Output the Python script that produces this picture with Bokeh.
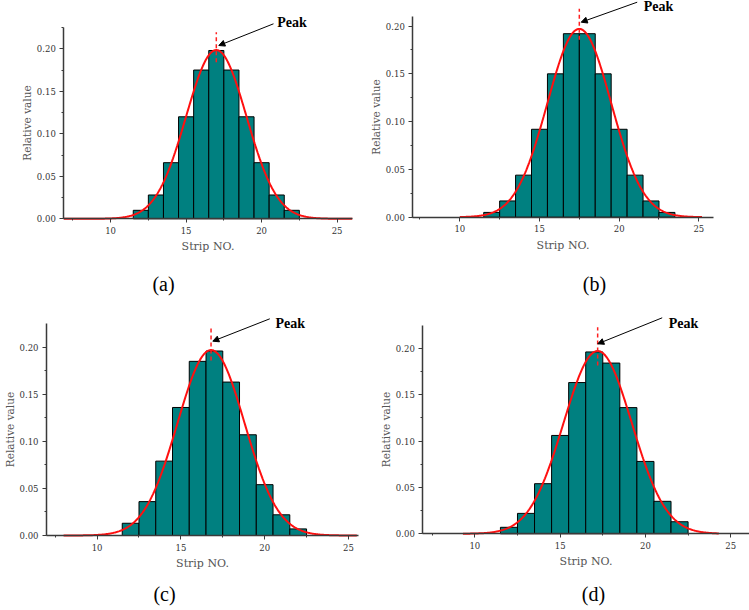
import numpy as np
from bokeh.plotting import figure
from bokeh.layouts import column, row
from bokeh.models import (Arrow, NormalHead, Label, Range1d,
                          SingleIntervalTicker, NumeralTickFormatter)
from bokeh.embed import file_html
from bokeh.resources import INLINE

# ---- relative value per strip, four measurements ----
strips_a = [12, 13, 14, 15, 16, 17, 18, 19, 20, 21, 22]
values_a = [0.010, 0.028, 0.066, 0.120, 0.175, 0.198, 0.175, 0.120, 0.066, 0.028, 0.010]

strips_b = [12, 13, 14, 15, 16, 17, 18, 19, 20, 21, 22, 23]
values_b = [0.005, 0.017, 0.044, 0.092, 0.150, 0.192, 0.192, 0.150, 0.092, 0.044, 0.017, 0.005]

strips_c = [12, 13, 14, 15, 16, 17, 18, 19, 20, 21, 22]
values_c = [0.013, 0.036, 0.079, 0.136, 0.185, 0.196, 0.163, 0.107, 0.054, 0.022, 0.007]

strips_d = [12, 13, 14, 15, 16, 17, 18, 19, 20, 21, 22]
values_d = [0.007, 0.022, 0.054, 0.106, 0.163, 0.196, 0.184, 0.136, 0.078, 0.035, 0.013]

# ---- normal-curve fit of each histogram: centre (peak strip), height, width ----
fit_a = dict(center=17.0, height=0.1985, sigma=2.0, start=6.9, end=26.0)
fit_b = dict(center=17.5, height=0.197, sigma=2.0, start=10.0, end=25.2)
fit_c = dict(center=16.8, height=0.197, sigma=2.0, start=8.0, end=25.5)
fit_d = dict(center=17.2, height=0.197, sigma=2.0, start=9.3, end=24.3)

# axis extents of the panels (x: strip number, y: relative value)
x_extents = [(6.9, 26.0), (7.05, 25.94), (6.98, 25.6), (6.95, 26.1)]
y_extents = [(0, 0.2254), (0, 0.210), (0, 0.2249), (0, 0.2245)]

panel_tags = ["(a)", "(b)", "(c)", "(d)"]

# ---- per-panel geometry in canvas pixels (origin top-left of each panel) ----
# box = axes rectangle (left, right, top, bottom); annotations are pixel anchors
layouts = [
    dict(w=370, h=300, box=(63.3, 351.7, 26.7, 218.3),
         dash=(31.7, 61.7), arrow=(273, 23.3, 218.3, 45), peak=(276.7, 22), tag=(163, 283)),
    dict(w=379, h=300, box=(42.3, 343.3, 16, 216.7),
         dash=(8.3, 39.3), arrow=(266.7, 1.7, 210.7, 21.7), peak=(273.3, 6), tag=(224, 283)),
    dict(w=370, h=310, box=(46, 358, 23.3, 235),
         dash=(26, 60), arrow=(269.3, 18.3, 212.3, 40.7), peak=(275, 23), tag=(164, 293)),
    dict(w=379, h=310, box=(52.3, 379, 25, 233.3),
         dash=(26.7, 65), arrow=(291.7, 17.3, 227.3, 43.3), peak=(298.3, 23), tag=(223, 293)),
]

AXIS_COLOR = "#3a3a3a"


def make_panel(strips, values, fit, xe, ye, lay, tag):
    w, h = lay["w"], lay["h"]
    left, right, top, bottom = lay["box"]
    x0, x1 = xe
    y0, y1 = ye
    sx = (x1 - x0) / (right - left)
    sy = (y1 - y0) / (bottom - top)

    def dx(px):
        return x0 + (px - left) * sx

    def dy(py):
        return y0 + (bottom - py) * sy

    # the frame fills the whole panel; axes sit at fixed data positions
    p = figure(width=w, height=h,
               x_range=Range1d(dx(0), dx(w)), y_range=Range1d(dy(h), dy(0)),
               output_backend="svg", toolbar_location=None, tools="", min_border=0)
    p.xgrid.visible = False
    p.ygrid.visible = False
    p.outline_line_color = None
    p.background_fill_color = "white"
    p.border_fill_color = "white"

    # histogram bars
    p.vbar(x=strips, top=values, width=1.0, bottom=0,
           fill_color="#008080", line_color="black", line_width=1)

    # fitted normal curve
    xs = np.linspace(fit["start"], fit["end"], 400)
    ys = fit["height"] * np.exp(-0.5 * ((xs - fit["center"]) / fit["sigma"]) ** 2)
    p.line(xs, ys, line_color="#ff1010", line_width=2)

    # axes
    p.xaxis.ticker = SingleIntervalTicker(interval=5, num_minor_ticks=2)
    p.yaxis.ticker = SingleIntervalTicker(interval=0.05, num_minor_ticks=2)
    p.yaxis.formatter = NumeralTickFormatter(format="0.00")
    p.xaxis.axis_label = "Strip NO."
    p.yaxis.axis_label = "Relative value"
    p.xaxis.fixed_location = y0
    p.xaxis.bounds = (x0, x1)
    p.yaxis.fixed_location = x0
    p.yaxis.bounds = (y0, y1)
    for ax in (p.xaxis[0], p.yaxis[0]):
        ax.axis_line_color = AXIS_COLOR
        ax.axis_line_width = 1.5
        ax.major_tick_in = 0
        ax.major_tick_out = 4
        ax.minor_tick_in = 0
        ax.minor_tick_out = 2
        ax.major_tick_line_color = AXIS_COLOR
        ax.minor_tick_line_color = AXIS_COLOR
        ax.major_label_text_font = "DejaVu Serif"
        ax.major_label_text_font_size = "8.5px"
        ax.major_label_text_color = "#333333"
        ax.major_label_standoff = 4
        ax.axis_label_text_font = "DejaVu Serif"
        ax.axis_label_text_font_style = "normal"
        ax.axis_label_text_color = "#555555"
    p.xaxis.axis_label_text_font_size = "11px"
    p.xaxis.axis_label_standoff = 3
    p.yaxis.axis_label_text_font_size = "10.5px"
    p.yaxis.axis_label_standoff = 1

    # peak marker and callout
    cx = fit["center"]
    p.add_layout(Arrow(x_start=cx, y_start=dy(lay["dash"][1]), x_end=cx, y_end=dy(lay["dash"][0]),
                       end=None, line_color="#ff2020", line_width=1.5, line_dash="4 3"))
    a0, b0, a1, b1 = lay["arrow"]
    p.add_layout(Arrow(x_start=dx(a0), y_start=dy(b0), x_end=dx(a1), y_end=dy(b1),
                       line_color="black", line_width=1,
                       end=NormalHead(size=6, fill_color="black", line_color="black")))
    p.add_layout(Label(x=dx(lay["peak"][0]), y=dy(lay["peak"][1]), text="Peak",
                       text_font="Liberation Serif", text_font_style="bold",
                       text_font_size="14px", text_color="black",
                       text_align="left", text_baseline="middle"))
    # panel tag underneath
    p.add_layout(Label(x=dx(lay["tag"][0]), y=dy(lay["tag"][1]), text=tag,
                       text_font="Liberation Serif", text_font_size="20px",
                       text_color="black", text_align="center", text_baseline="middle"))
    return p


panels = [
    make_panel(strips_a, values_a, fit_a, x_extents[0], y_extents[0], layouts[0], panel_tags[0]),
    make_panel(strips_b, values_b, fit_b, x_extents[1], y_extents[1], layouts[1], panel_tags[1]),
    make_panel(strips_c, values_c, fit_c, x_extents[2], y_extents[2], layouts[2], panel_tags[2]),
    make_panel(strips_d, values_d, fit_d, x_extents[3], y_extents[3], layouts[3], panel_tags[3]),
]

page = column(row(panels[0], panels[1], spacing=0), row(panels[2], panels[3], spacing=0), spacing=0)

open("out.html", "w").write(file_html(page, INLINE))
